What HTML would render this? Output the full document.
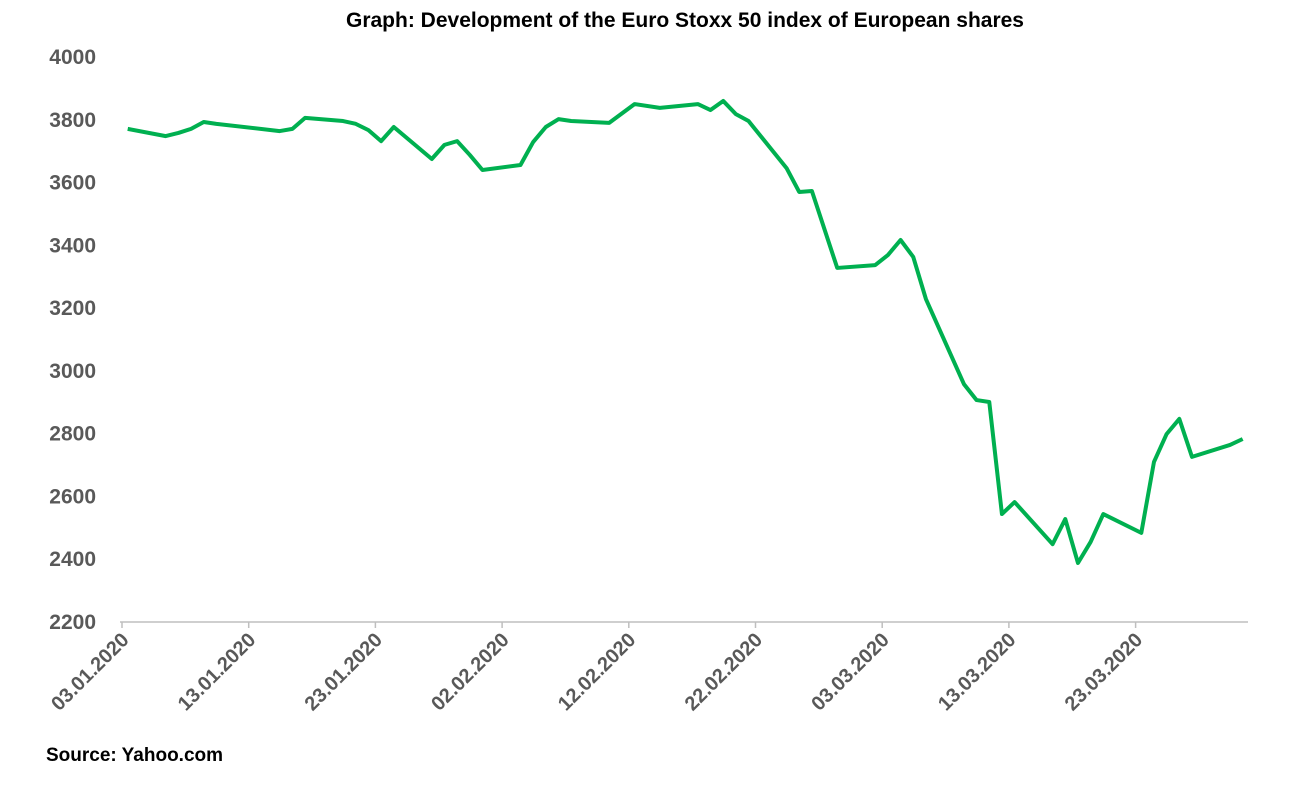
<!DOCTYPE html>
<html><head><meta charset="utf-8"><style>
body{margin:0;background:#fff;}
svg text{font-family:"Liberation Sans",sans-serif;font-weight:bold;}
</style></head><body>
<svg width="1308" height="783" viewBox="0 0 1308 783">
<text x="685" y="27" text-anchor="middle" font-size="21" fill="#000">Graph: Development of the Euro Stoxx 50 index of European shares</text>
<g id="yaxis"></g><g id="xaxis"></g><g id="series"></g>
<text x="46" y="761" font-size="19" fill="#000">Source: Yahoo.com</text>
</svg>
<script>
const days=[0,3,4,5,6,7,12,13,14,17,18,19,20,21,24,25,26,27,28,31,32,33,34,35,38,40,42,45,46,47,48,49,52,53,54,56,59,60,61,62,63,66,67,68,69,70,73,74,75,76,77,80,81,82,83,84,87,88];
const values=[3771,3748,3758,3771,3793,3787,3764,3771,3806,3796,3787,3767,3732,3777,3675,3720,3732,3688,3640,3656,3729,3777,3802,3796,3790,3850,3838,3850,3831,3860,3818,3796,3646,3570,3573,3328,3337,3369,3417,3363,3229,2958,2907,2901,2544,2582,2448,2528,2388,2455,2544,2484,2710,2799,2847,2726,2764,2783];
const yTicks=[2200,2400,2600,2800,3000,3200,3400,3600,3800,4000];
const xTickDays=[0,10,20,30,40,50,60,70,80];
const xTickLabels=["03.01.2020","13.01.2020","23.01.2020","02.02.2020","12.02.2020","22.02.2020","03.03.2020","13.03.2020","23.03.2020"];
const NS="http://www.w3.org/2000/svg";
const x=d=>122+d*12.67, xp=d=>x(d+0.45);
const y=v=>622-(v-2200)*(565/1800);
function mk(t,a,p){const e=document.createElementNS(NS,t);for(const k in a)e.setAttribute(k,a[k]);p.appendChild(e);return e;}
const ya=document.getElementById('yaxis'),xa=document.getElementById('xaxis'),se=document.getElementById('series');
yTicks.forEach(v=>{const t=mk('text',{x:96,y:y(v)+7,'text-anchor':'end','font-size':21,fill:'#595959'},ya);t.textContent=v;

});
const ax=mk('line',{x1:120,x2:1248,y1:622,y2:622,stroke:'#bfbfbf','stroke-width':1.5},xa);


xTickDays.forEach((d,i)=>{mk('line',{x1:x(d),x2:x(d),y1:622,y2:628,stroke:'#bfbfbf','stroke-width':1.5},xa);
const t=mk('text',{x:x(d)+8,y:641,'text-anchor':'end','font-size':20,fill:'#595959',transform:`rotate(-45 ${x(d)+8} 641)`},xa);t.textContent=xTickLabels[i];

});
const pl=mk('polyline',{points:days.map((d,i)=>xp(d)+','+y(values[i])).join(' '),fill:'none',stroke:'#00b050','stroke-width':4,'stroke-linejoin':'round'},se);


</script>
</body></html>
